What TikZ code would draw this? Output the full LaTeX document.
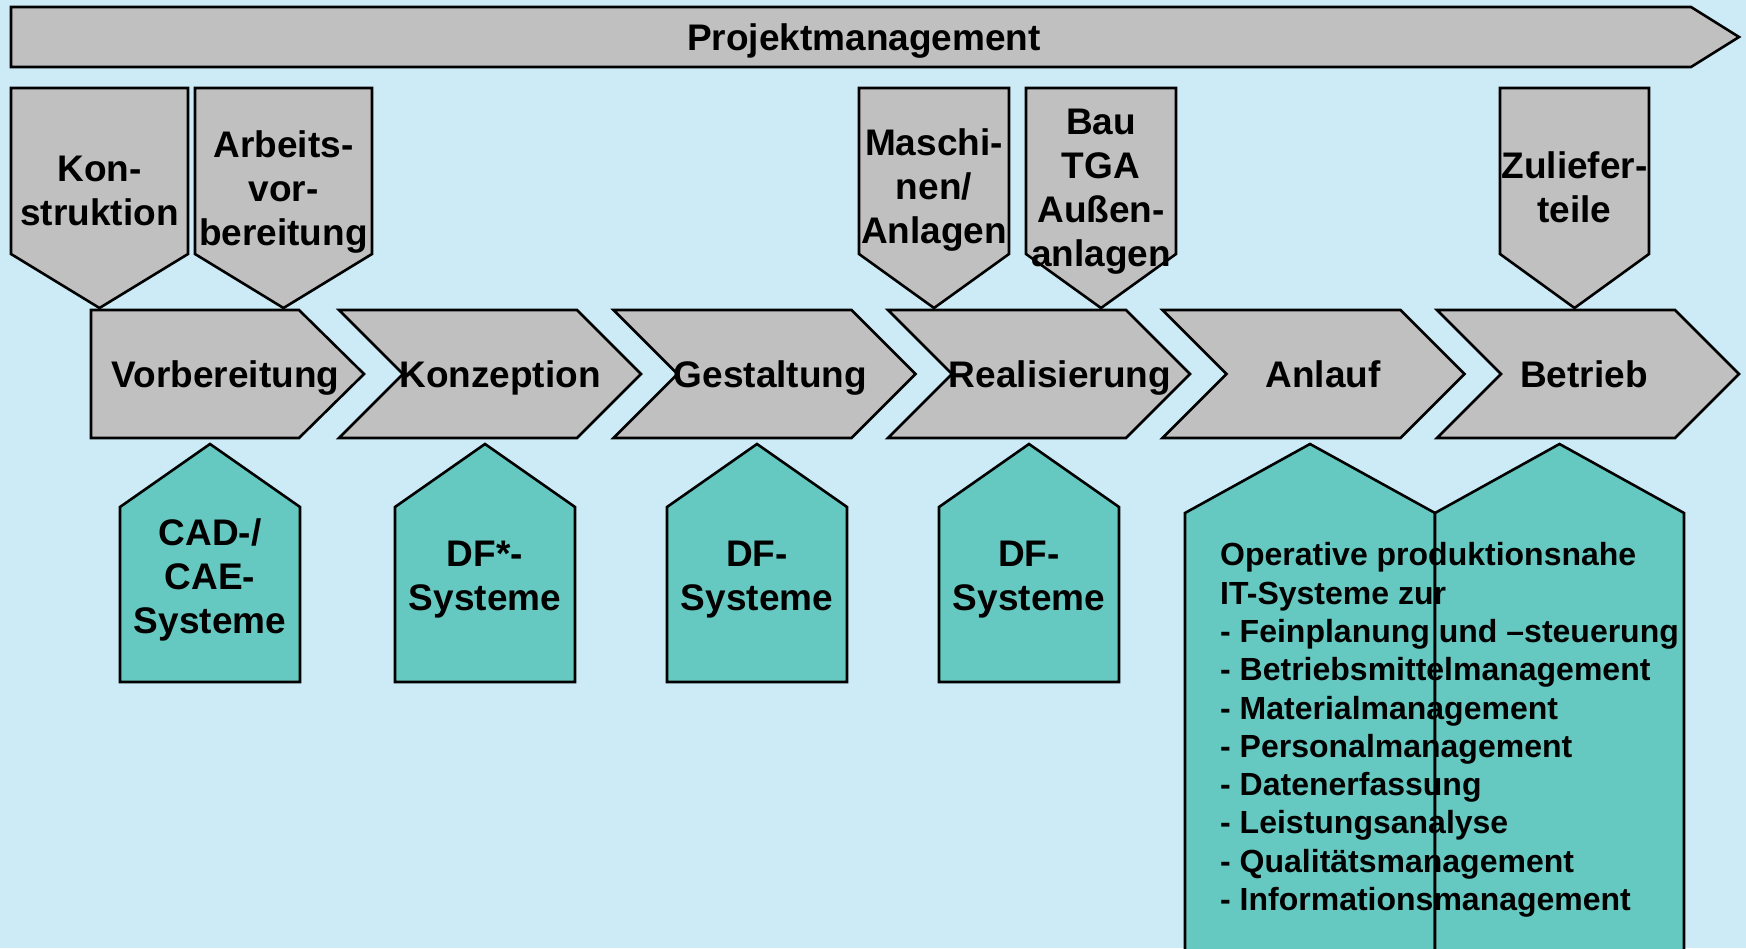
\documentclass[tikz,border=0pt]{standalone}
\usepackage{fontspec}
\setmainfont{Liberation Sans}
\definecolor{bgblue}{RGB}{204,235,246}
\definecolor{shapegray}{RGB}{192,192,192}
\definecolor{tealfill}{RGB}{102,201,193}
\begin{document}
\begin{tikzpicture}[x=1pt,y=-1pt,
  grayshape/.style={draw=black, line width=2.6pt, fill=shapegray},
  tealshape/.style={draw=black, line width=2.6pt, fill=tealfill},
  lbl/.style={align=center, inner sep=0pt, font=\bfseries\fontsize{37}{44}\selectfont},
  oneline/.style={lbl, text depth=0pt},
  listlbl/.style={align=left, inner sep=0pt, anchor=west, font=\bfseries\fontsize{32}{38.3}\selectfont}]

% background and frame
\fill[bgblue] (0,0) rectangle (1746,948);
\useasboundingbox (0,0) rectangle (1746,948);
\clip (0,0) rectangle (1746,948);

% project management bar
\draw[grayshape] (11,7) -- (1691,7) -- (1739,37) -- (1691,67) -- (11,67) -- cycle;
\node[oneline] (pm) at (864,37) {Projektmanagement};

% inputs from above (pentagons pointing down)
\draw[grayshape] (11,88) -- (188,88) -- (188,254) -- (99.5,308) -- (11,254) -- cycle;
\draw[grayshape] (195,88) -- (372,88) -- (372,254) -- (283.5,308) -- (195,254) -- cycle;
\draw[grayshape] (859,88) -- (1009,88) -- (1009,254) -- (934,308) -- (859,254) -- cycle;
\draw[grayshape] (1026,88) -- (1176,88) -- (1176,254) -- (1101,308) -- (1026,254) -- cycle;
\draw[grayshape] (1500,88) -- (1649,88) -- (1649,254) -- (1574.5,308) -- (1500,254) -- cycle;

\node[lbl] (kon) at (99.5,190.5) {Kon-\\struktion};
\node[lbl] (av) at (283.5,192.5) {Arbeits-\\vor-\\bereitung};
\node[lbl] (ma) at (934,190) {Maschi-\\nen/\\Anlagen};
\node[lbl] (bau) at (1101,191.5) {Bau\\TGA\\Außen-\\anlagen};
\node[lbl] (zt) at (1574.5,187) {Zuliefer-\\teile};

% phase chevrons
\draw[grayshape] (91,310) -- (299,310) -- (364,374) -- (299,438) -- (91,438) -- cycle;
\foreach \x in {339,613.5,888,1162.5,1437}
  \draw[grayshape] (\x,310) -- (\x+238,310) -- (\x+302,374) -- (\x+238,438)
                   -- (\x,438) -- (\x+64,374) -- cycle;

\node[oneline] (vb) at (225.5,374) {Vorbereitung};
\node[oneline] (kz) at (500,374) {Konzeption};
\node[oneline] (gs) at (770.5,374) {Gestaltung};
\node[oneline] (rl) at (1060,374) {Realisierung};
\node[oneline] (al) at (1323,374) {Anlauf};
\node[oneline] (bt) at (1584,374) {Betrieb};

% IT systems below (pentagons pointing up)
\foreach \l in {120,395,667,939}
  \draw[tealshape] (\l,682) -- (\l,507) -- (\l+90,444) -- (\l+180,507) -- (\l+180,682) -- cycle;

\node[lbl] (cad) at (210,580) {CAD-/\\CAE-\\Systeme};
\node[lbl] (df1) at (485,580) {DF*-\\Systeme};
\node[lbl] (df2) at (757,580) {DF-\\Systeme};
\node[lbl] (df3) at (1029,580) {DF-\\Systeme};

\draw[tealshape] (1185,962) -- (1185,513) -- (1310,444) -- (1435,513) -- (1435,962);
\draw[tealshape] (1435,962) -- (1435,513) -- (1559.5,444) -- (1684,513) -- (1684,962);

\node[listlbl] (ops) at (1220,730) {Operative produktionsnahe\\
IT-Systeme zur\\
- Feinplanung und –steuerung\\
- Betriebsmittelmanagement\\
- Materialmanagement\\
- Personalmanagement\\
- Datenerfassung\\
- Leistungsanalyse\\
- Qualitätsmanagement\\
- Informationsmanagement};
\end{tikzpicture}
\end{document}
